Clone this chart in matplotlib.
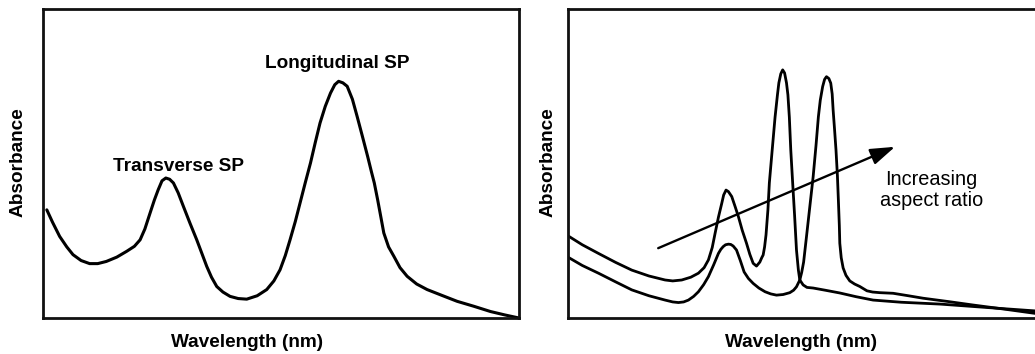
import matplotlib
matplotlib.use("Agg")
import matplotlib.pyplot as plt

plt.rcParams['font.family'] = ['Liberation Sans', 'DejaVu Sans']

# ---------------- data (arbitrary units) ----------------
# Left panel: single spectrum (wavelength 0-100, absorbance 0-100)
left_x = [0.8, 2.0, 3.5, 5.0, 6.3, 8.0, 9.8, 11.5, 13.3, 15.5, 17.6, 19.2, 20.4,
          21.4, 22.5, 23.4, 24.2, 25.0, 25.8, 26.6, 27.4, 28.4, 29.5, 30.9, 32.3,
          33.4, 34.4, 35.4, 36.5, 37.8, 39.3, 41.0, 42.8, 45.0, 47.0, 48.5, 49.8,
          50.9, 51.9, 53.0, 54.0, 55.1, 56.2, 57.2, 58.2, 59.3, 60.4, 61.3, 62.1,
          63.0, 63.9, 65.0, 66.0, 67.1, 68.2, 69.0, 69.6, 70.3, 71.0, 71.6, 72.6,
          73.7, 75.0, 76.5, 78.5, 80.7, 84.0, 87.0, 90.5, 94.0, 97.0, 100.0]
left_y = [35.0, 31.0, 26.4, 23.0, 20.5, 18.6, 17.6, 17.6, 18.3, 19.7, 21.6, 23.2, 25.3,
          28.8, 34.0, 38.2, 41.5, 44.4, 45.3, 44.9, 43.7, 40.5, 36.1, 30.6, 25.3,
          20.8, 16.7, 13.2, 10.2, 8.4, 7.0, 6.3, 6.1, 7.2, 9.2, 12.0, 15.6,
          20.2, 25.3, 31.2, 37.2, 43.8, 50.2, 56.8, 63.1, 68.5, 72.8, 75.5, 76.6,
          76.1, 75.0, 70.8, 65.2, 58.8, 52.3, 47.3, 43.7, 38.3, 32.5, 27.5, 23.0,
          20.0, 16.3, 13.5, 11.0, 9.2, 7.2, 5.4, 3.8, 2.1, 1.0, 0.0]

# Right panel: spectrum A (shorter rods)
a_x = [0.1, 3.0, 6.4, 10.0, 13.4, 17.0, 20.4, 22.0, 23.9, 25.8, 27.4, 28.6, 29.5,
       30.3, 30.9, 31.6, 32.3, 32.7, 33.2, 33.7, 34.4, 35.1, 35.8, 36.6, 37.5,
       38.2, 38.9, 39.6, 40.3, 40.7, 41.0, 41.3, 41.6, 42.0, 42.3, 42.9, 43.5,
       44.0, 44.3, 44.7, 45.1, 45.5, 45.9, 46.2, 46.5, 46.8, 47.2, 47.6, 48.0,
       48.4, 48.7, 49.4, 50.2, 51.5, 54.0, 57.1, 60.5, 64.1, 70.0, 78.2, 88.0,
       98.1, 100.0]
a_y = [26.5, 23.7, 20.9, 18.0, 15.5, 13.6, 12.3, 12.0, 12.3, 13.2, 14.5, 16.3, 18.8,
       22.8, 27.4, 32.6, 37.1, 39.8, 41.4, 40.9, 39.3, 36.1, 32.8, 28.4, 24.2,
       20.6, 17.7, 16.8, 18.1, 19.5, 20.4, 23.0, 26.9, 35.0, 43.7, 54.4, 65.0,
       72.2, 76.1, 79.0, 80.3, 79.3, 76.1, 72.2, 65.0, 54.4, 43.7, 33.3, 22.0,
       15.5, 12.3, 10.7, 9.9, 9.7, 9.0, 8.1, 6.9, 5.8, 5.1, 4.5, 3.4,
       2.3, 1.9]

# Right panel: spectrum B (longer rods)
b_x = [0.1, 3.0, 6.4, 10.0, 13.4, 17.0, 20.4, 22.0, 23.2, 24.3, 25.3, 26.4, 27.4,
       28.5, 29.5, 30.6, 31.6, 32.1, 32.6, 33.1, 33.7, 34.2, 34.7, 35.4, 36.2,
       37.0, 37.9, 38.9, 40.1, 41.4, 42.6, 43.8, 45.2, 46.6, 47.4, 48.0, 48.7,
       49.1, 49.5, 50.1, 50.8, 51.5, 52.1, 52.6, 53.0, 53.5, 53.9, 54.3, 54.8,
       55.2, 55.5, 55.7, 56.0, 56.3, 56.6, 56.8, 57.0, 57.1, 57.4, 57.8, 58.4,
       59.2, 60.2, 61.3, 62.8, 64.0, 65.5, 68.3, 71.5, 74.6, 80.0, 85.1, 92.0,
       98.1, 100.0]
b_y = [19.6, 17.0, 14.5, 11.7, 9.1, 7.2, 5.8, 5.2, 5.0, 5.2, 5.8, 7.0, 8.5,
       10.8, 13.4, 17.2, 20.9, 22.2, 23.1, 23.7, 23.9, 23.8, 23.3, 22.0, 18.6,
       14.9, 12.8, 11.2, 9.7, 8.5, 7.8, 7.4, 7.6, 8.2, 9.0, 10.1, 12.3,
       14.8, 18.1, 26.3, 36.0, 45.7, 55.8, 65.1, 70.5, 74.9, 77.2, 78.1, 77.5,
       76.0, 72.5, 67.3, 61.0, 54.4, 46.0, 38.2, 30.0, 24.2, 19.5, 16.2, 13.8,
       12.0, 11.0, 10.2, 8.8, 8.4, 8.2, 8.0, 7.2, 6.4, 5.3, 4.2, 2.8,
       1.5, 1.0]

arrow_tail = (18.95, 22.6)
arrow_head = (68.7, 55.4)

x_label = "Wavelength (nm)"
y_label = "Absorbance"
left_peak_labels = ["Transverse SP", "Longitudinal SP"]
right_note = ["Increasing", "aspect ratio"]

# ---------------- figure ----------------
W, H = 1035, 354
fig = plt.figure(figsize=(W / 100, H / 100), dpi=100)

def box(x0, y0, x1, y1):
    return [x0 / W, 1 - y1 / H, (x1 - x0) / W, (y1 - y0) / H]

axL = fig.add_axes(box(43, 9, 519, 318))
axR = fig.add_axes(box(568, 9, 1044, 318))

for ax in (axL, axR):
    ax.set_xlim(0, 100)
    ax.set_ylim(0, 100)
    ax.set_xticks([])
    ax.set_yticks([])
    for s in ax.spines.values():
        s.set_linewidth(2.0)
        s.set_color('#111111')

axL.plot(left_x, left_y, color='black', lw=2.2, solid_joinstyle='round',
         solid_capstyle='round', clip_on=False)
axR.plot(a_x, a_y, color='black', lw=2.0, solid_joinstyle='round', solid_capstyle='round')
axR.plot(b_x, b_y, color='black', lw=2.0, solid_joinstyle='round', solid_capstyle='round')

axR.annotate('', xy=arrow_head, xytext=arrow_tail,
             arrowprops=dict(arrowstyle='-|>,head_length=1.5,head_width=0.5',
                             lw=1.7, color='black', mutation_scale=10,
                             shrinkA=0, shrinkB=0))

fs = 13.7
axL.text(28.4, 47.5, left_peak_labels[0], ha='center', va='baseline',
         fontsize=fs, fontweight='bold')
axL.text(61.9, 80.9, left_peak_labels[1], ha='center', va='baseline',
         fontsize=fs, fontweight='bold')

axR.text(76.3, 43.0, right_note[0], ha='center', va='baseline', fontsize=14.3)
axR.text(76.3, 36.3, right_note[1], ha='center', va='baseline', fontsize=14.3)

# axis labels
fig.text(18.3 / W, 1 - 161.7 / H, y_label, rotation=90, ha='center', va='center',
         fontsize=fs, fontweight='bold')
fig.text(548.3 / W, 1 - 161.7 / H, y_label, rotation=90, ha='center', va='center',
         fontsize=fs, fontweight='bold')
fig.text(246.7 / W, 1 - 346.7 / H, x_label, ha='center', va='baseline',
         fontsize=fs, fontweight='bold')
fig.text(800.8 / W, 1 - 346.7 / H, x_label, ha='center', va='baseline',
         fontsize=fs, fontweight='bold')

fig.savefig('out.png', dpi=100)
